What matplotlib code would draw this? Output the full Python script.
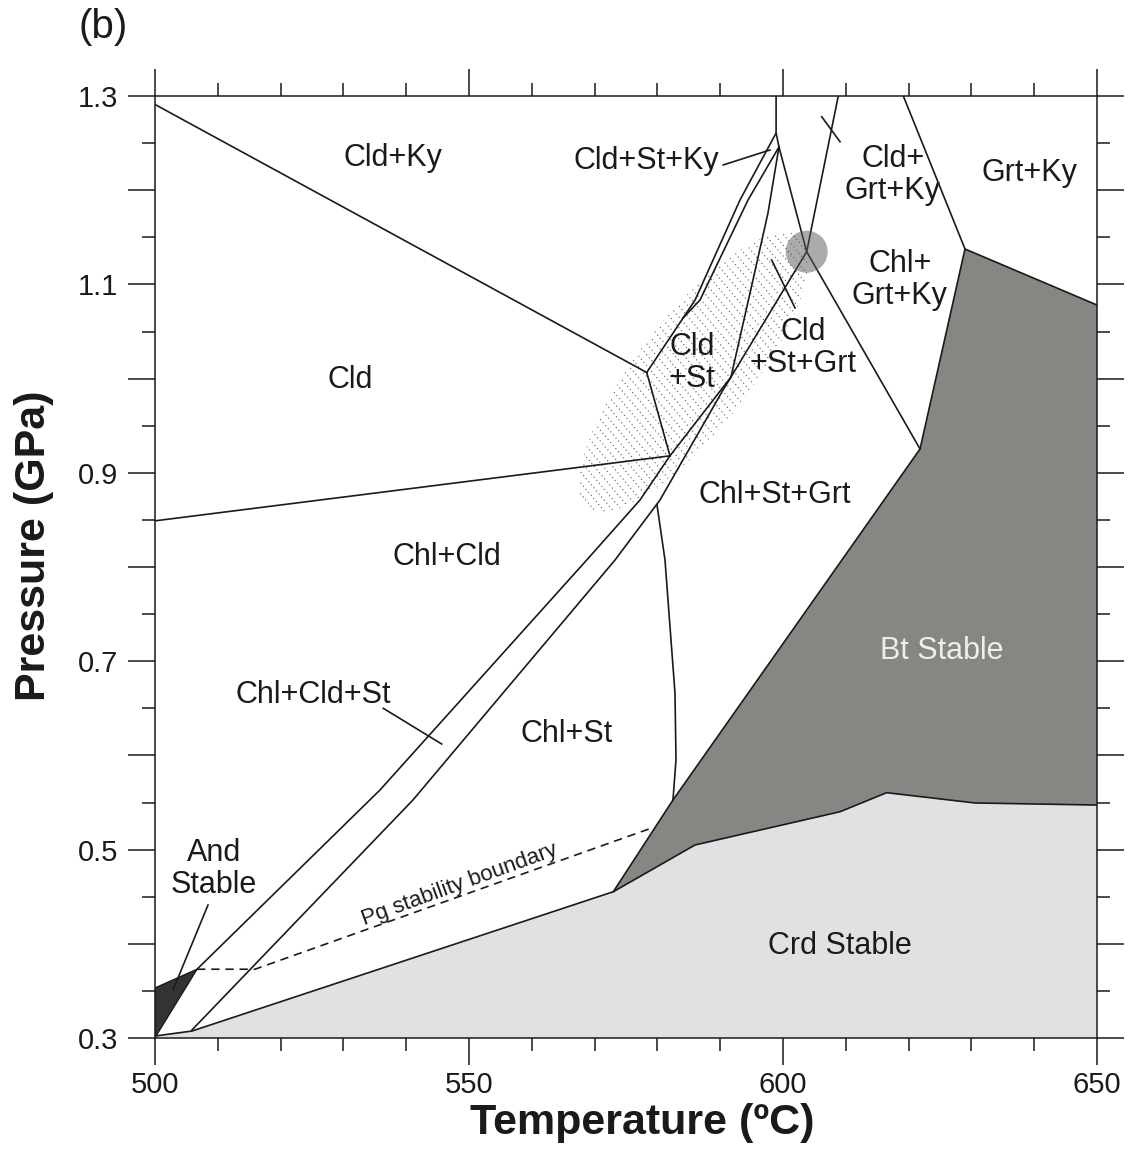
import numpy as np
import matplotlib
matplotlib.use('Agg')
import matplotlib.pyplot as plt
from matplotlib.patches import Polygon, Ellipse

plt.rcParams['font.family'] = ['Liberation Sans', 'DejaVu Sans']

# 相边界 (温度 ºC, 压力 GPa)
cldky_T = [500.0, 578.3]
cldky_P = [1.291, 1.0065]
cldchl_T = [500.0, 582.0]
cldchl_P = [0.849, 0.918]
t1t2_T = [578.3, 582.0]
t1t2_P = [1.0065, 0.918]
stA_T = [598.9, 593.15, 586.0, 578.3]
stA_P = [1.2607, 1.1896, 1.0834, 1.0065]
stB_T = [599.36, 594.43, 586.78, 584.08]
stB_P = [1.2459, 1.1896, 1.0834, 1.0643]
topA_T = [598.9, 598.9, 599.36]
topA_P = [1.3, 1.2607, 1.2459]
grt_T = [599.36, 597.61, 595.22, 591.72]
grt_P = [1.2459, 1.1758, 1.1047, 1.0017]
ky_T = [599.36, 603.77, 621.82]
ky_P = [1.2459, 1.1347, 0.9253]
cldgrt_T = [608.8, 603.77, 591.72]
cldgrt_P = [1.3, 1.1347, 1.0017]
grtky_T = [619.16, 628.98]
grtky_P = [1.3, 1.1376]
band_up_T = [506.69, 535.83, 568.74, 577.23, 582.0, 591.72]
band_up_P = [0.373, 0.5633, 0.8074, 0.8711, 0.918, 1.0017]
band_lo_T = [505.89, 541.08, 573.25, 580.41, 590.45, 591.72]
band_lo_P = [0.3085, 0.5527, 0.8074, 0.8711, 0.9879, 1.0017]
chlst_T = [579.94, 581.21, 582.01, 582.8, 582.96, 582.48]
chlst_P = [0.8658, 0.8074, 0.7363, 0.6662, 0.5951, 0.5527]
pg_T = [506.69, 515.92, 578.7]
pg_P = [0.373, 0.373, 0.522]

# 稳定区
crd_T = [500.0, 505.89, 572.98, 585.99, 609.08, 616.51, 630.57, 650.0]
crd_P = [0.3021, 0.3074, 0.4553, 0.5049, 0.5402, 0.5604, 0.5495, 0.5473]
btedge_T = [650.0, 628.98, 621.82, 582.48]
btedge_P = [1.0781, 1.1376, 0.9253, 0.5527]
and_T = [500.0, 506.69, 500.16, 500.0]
and_P = [0.3531, 0.373, 0.3021, 0.3]

# 标注指示线
ptr_T = [[590.48, 597.93], [606.16, 609.08], [598.2, 601.91], [502.87, 508.44], [536.35, 545.65]]
ptr_P = [[1.2268, 1.2427], [1.278, 1.2515], [1.1259, 1.075], [0.351, 0.4412], [0.65, 0.6121]]

labels = ['Cld+Ky', 'Cld+St+Ky', 'Cld+\nGrt+Ky', 'Grt+Ky', 'Chl+\nGrt+Ky', 'Cld\n+St',
          'Cld\n+St+Grt', 'Cld', 'Chl+St+Grt', 'Chl+Cld', 'Bt Stable', 'Chl+Cld+St',
          'Chl+St', 'And\nStable', 'Crd Stable']
label_T = [537.9, 578.3, 617.5, 639.2, 618.6, 585.5, 603.2, 531.05, 598.7, 546.5,
           625.3, 525.16, 565.6, 509.4, 609.1]
label_P = [1.234, 1.231, 1.216, 1.218, 1.105, 1.017, 1.0325, 0.9985, 0.8764, 0.8106,
           0.7108, 0.6641, 0.6227, 0.4794, 0.3977]

# 圆点 (不变点) 和阴影椭圆
circ_T, circ_P = 603.77, 1.1347
hatch_T, hatch_P = 585.8, 1.007

xticks = [500, 550, 600, 650]
xminor = np.arange(500, 651, 10)
yticks = [0.3, 0.4, 0.5, 0.6, 0.7, 0.8, 0.9, 1.0, 1.1, 1.2, 1.3]
ylabels = ['0.3', '', '0.5', '', '0.7', '', '0.9', '', '1.1', '', '1.3']
yminor = np.arange(0.35, 1.3, 0.1)

LC = '#1a1a1a'

fig = plt.figure(figsize=(11.28, 11.54), dpi=100)
ax = fig.add_axes([155/1128, 1 - 1038/1154, 942/1128, 942/1154])
ax.set_xlim(500, 650)
ax.set_ylim(0.3, 1.3)

# 填充
crd_poly = list(zip(crd_T, crd_P)) + [(650, 0.3), (500, 0.3)]
ax.add_patch(Polygon(crd_poly, closed=True, fc='#dfe1e2', ec='none', zorder=1))
bt_poly = list(zip(crd_T[2:], crd_P[2:])) + list(zip(btedge_T, btedge_P))
ax.add_patch(Polygon(bt_poly, closed=True, fc='#858782', ec='none', zorder=1))
ax.add_patch(Polygon(list(zip(and_T, and_P)), closed=True, fc='#333333', ec=LC, lw=1.0, zorder=1))

# 阴影椭圆 (点状斜线)
kx, ky = 942 / 150, 942 / 1.0  # 像素/单位
a, b, ang = 172, 56, np.deg2rad(52)
t = np.linspace(0, 2*np.pi, 200)
ex = a*np.cos(t)*np.cos(ang) - b*np.sin(t)*np.sin(ang)
ey = a*np.cos(t)*np.sin(ang) + b*np.sin(t)*np.cos(ang)
clip = Polygon(np.column_stack([hatch_T + ex/kx, hatch_P + ey/ky]), closed=True,
               transform=ax.transData, fc='none', ec='none')
ax.add_patch(clip)
d = np.array([np.cos(np.deg2rad(-50)), np.sin(np.deg2rad(-50))])
n = np.array([-d[1], d[0]])
for s in np.arange(-200, 200, 7):
    p0 = s*n - 260*d
    p1 = s*n + 260*d
    ln, = ax.plot([hatch_T + p0[0]/kx, hatch_T + p1[0]/kx],
                  [hatch_P + p0[1]/ky, hatch_P + p1[1]/ky],
                  color='0.35', lw=0.8, ls=(0, (1.0, 2.6)), zorder=1.5)
    ln.set_clip_path(clip)

# 边界线
lines = [(cldky_T, cldky_P), (cldchl_T, cldchl_P), (t1t2_T, t1t2_P), (stA_T, stA_P),
         (stB_T, stB_P), (topA_T, topA_P), (grt_T, grt_P), (ky_T, ky_P),
         (cldgrt_T, cldgrt_P), (grtky_T, grtky_P), (band_up_T, band_up_P),
         (band_lo_T, band_lo_P), (chlst_T, chlst_P), (crd_T, crd_P),
         (btedge_T, btedge_P), ([crd_T[2], btedge_T[-1]], [crd_P[2], btedge_P[-1]])]
for xs, ys in lines:
    ax.plot(xs, ys, color=LC, lw=1.2, zorder=2, solid_joinstyle='miter')
ax.plot(pg_T, pg_P, color=LC, lw=1.2, ls=(0, (5, 3.5)), zorder=2)

for xs, ys in zip(ptr_T, ptr_P):
    ax.plot(xs, ys, color=LC, lw=1.2, zorder=2)

ax.add_patch(Ellipse((circ_T, circ_P), 42/kx, 42/ky, fc='0.35', ec='none', alpha=0.5, zorder=3))

# 文字
for lab, x, y in zip(labels, label_T, label_P):
    col = '#eeeeee' if lab == 'Bt Stable' else '#1a1a1a'
    ax.text(x, y, lab, fontsize=22, ha='center', va='center', color=col,
            linespacing=1.08, multialignment='center', zorder=4)
ax.text(548.5, 0.463, 'Pg stability boundary', fontsize=16, rotation=20,
        rotation_mode='anchor', ha='center', va='center', color='#1a1a1a', zorder=4)

fig.text(103/1128, 1 - 27/1154, '(b)', fontsize=29, ha='center', va='center', color='#1a1a1a')

# 坐标轴
ax.set_xticks(xticks)
ax.set_xticks(xminor, minor=True)
ax.set_yticks(yticks)
ax.set_yticklabels(ylabels)
ax.set_yticks(yminor, minor=True)
ax.tick_params(which='both', direction='out', top=True, right=True, width=1.1,
               color=LC, labelsize=21, labelcolor='#1a1a1a')
ax.tick_params(which='major', length=19.5)
ax.tick_params(which='minor', length=9.7)
ax.tick_params(axis='x', pad=4)
ax.tick_params(axis='y', pad=7)
for sp in ax.spines.values():
    sp.set_linewidth(1.1)
    sp.set_color(LC)

ax.set_xlabel('Temperature (ºC)', fontsize=31, fontweight='bold', color='#1a1a1a')
ax.set_ylabel('Pressure (GPa)', fontsize=31, fontweight='bold', color='#1a1a1a')
ax.xaxis.set_label_coords(0.517, -0.069)
ax.yaxis.set_label_coords(-0.107, 0.523)

fig.savefig('out.png', dpi=100)
